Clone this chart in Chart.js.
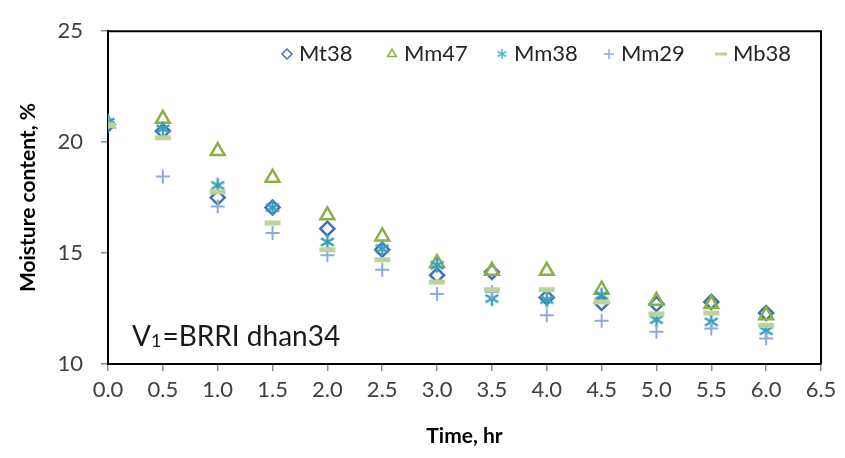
<!DOCTYPE html>
<html>
<head>
<meta charset="utf-8">
<script src="https://cdn.jsdelivr.net/npm/chart.js@4/dist/chart.umd.min.js"></script>
<style>
  html, body { margin: 0; padding: 0; background: #fff; }
  #wrap { width: 845px; height: 458px; position: relative; }
</style>
</head>
<body>
<div id="wrap"><canvas id="chart"></canvas></div>
<script>
const times = [0, 0.5, 1, 1.5, 2, 2.5, 3, 3.5, 4, 4.5, 5, 5.5, 6];
const mt38 = [20.8, 20.5, 17.5, 17.05, 16.1, 15.15, 14.0, 14.15, 13.0, 12.75, 12.7, 12.8, 12.3];
const mm47 = [20.85, 21.05, 19.6, 18.4, 16.7, 15.75, 14.55, 14.2, 14.2, 13.35, 12.85, 12.7, 12.2];
const mm38 = [20.9, 20.6, 18.05, 17.05, 15.5, 15.2, 14.45, 12.95, 12.9, 13.1, 12.0, 11.9, 11.5];
const mm29 = [20.9, 18.45, 17.1, 15.9, 14.9, 14.25, 13.15, 13.25, 12.2, 11.95, 11.45, 11.6, 11.15];
const mb38 = [20.75, 20.2, 17.75, 16.35, 15.15, 14.7, 13.7, 13.35, 13.35, 12.8, 12.25, 12.3, 11.75];

const xTicks = [0, 0.5, 1, 1.5, 2, 2.5, 3, 3.5, 4, 4.5, 5, 5.5, 6, 6.5];
const yTicks = [10, 15, 20, 25];

const canvas = document.getElementById("chart");
const ctx = canvas.getContext("2d");

const pts = ys => times.map((t, i) => ({ x: t, y: ys[i] }));

// six-armed asterisk like the Excel marker
function asterisk(color, r, lw) {
  const c = document.createElement("canvas");
  const s = Math.ceil(2 * r + lw + 2);
  c.width = s; c.height = s;
  const g = c.getContext("2d");
  g.strokeStyle = color;
  g.lineWidth = lw;
  g.lineCap = "butt";
  const m = s / 2;
  [90, 30, 150].forEach(a => {
    const rad = a * Math.PI / 180;
    g.beginPath();
    g.moveTo(m - Math.cos(rad) * r, m - Math.sin(rad) * r);
    g.lineTo(m + Math.cos(rad) * r, m + Math.sin(rad) * r);
    g.stroke();
  });
  return c;
}

const series = [
  { label: "Mt38", data: mt38, color: "#4472b0", style: "rectRot", r: 7, bw: 2.5, order: 5 },
  { label: "Mm47", data: mm47, color: "#8cb046", style: "triangle", r: 8, bw: 2.5, order: 4 },
  { label: "Mm38", data: mm38, color: "#3a9dbb", style: asterisk("#3a9dbb", 7.5, 2.5), r: 7, bw: 2.5, order: 3 },
  { label: "Mm29", data: mm29, color: "#8eaadb", style: "cross", r: 7, bw: 2, order: 2 },
  { label: "Mb38", data: mb38, color: "#bcd595", style: "line", r: 8, bw: 5, order: 1 }
];
const legendStar = asterisk("#5bb5d0", 5, 1.5);

// legend inside the plot, drawn by hand
const legendPlugin = {
  id: "insideLegend",
  afterDraw(chart) {
    const c = chart.ctx;
    const area = chart.chartArea;
    // frame top and right
    c.save();
    c.strokeStyle = "#000";
    c.lineWidth = 2;
    c.beginPath();
    c.moveTo(area.left, area.top);
    c.lineTo(area.right, area.top);
    c.lineTo(area.right, area.bottom);
    c.stroke();

    const starts = [299, 404, 514, 621, 733];
    c.font = "22px Lato";
    c.textBaseline = "middle";
    series.forEach((s, i) => {
      const x = starts[i];
      c.strokeStyle = s.color;
      c.fillStyle = "rgba(0,0,0,0)";
      c.lineWidth = s.style === "line" ? 3 : 1.5;
      const st = typeof s.style === "string" ? s.style : legendStar;
      Chart.helpers.drawPoint(c, { pointStyle: st, radius: s.style === "line" ? 6 : 5, borderWidth: c.lineWidth, rotation: 0 }, x - 12, 54);
      c.fillStyle = "#262626";
      c.fillText(s.label, x, 54);
    });

    // variety label
    c.fillStyle = "#1a1a1a";
    c.textBaseline = "alphabetic";
    c.font = "28px Lato";
    let tx = 132;
    c.fillText("V", tx, 346);
    tx += c.measureText("V").width;
    c.font = "18px Lato";
    c.fillText("1", tx, 347);
    tx += c.measureText("1").width + 1;
    c.font = "28px Lato";
    c.fillText("=BRRI dhan34", tx, 346);
    c.restore();
  }
};

new Chart(ctx, {
  type: "scatter",
  data: {
    datasets: series.map(s => ({
      label: s.label,
      data: pts(s.data),
      order: s.order,
      pointStyle: s.style,
      pointRadius: s.r,
      pointHoverRadius: s.r,
      pointBorderWidth: s.bw,
      borderColor: s.color,
      backgroundColor: "rgba(0,0,0,0)"
    }))
  },
  options: {
    responsive: true,
    maintainAspectRatio: false,
    animation: false,
    layout: { padding: { left: 0, right: 24, top: 18, bottom: 0 } },
    plugins: {
      legend: { display: false },
      tooltip: { enabled: false }
    },
    scales: {
      x: {
        type: "linear",
        min: 0,
        max: 6.5,
        afterBuildTicks: sc => { sc.ticks = xTicks.map(v => ({ value: v })); },
        afterFit: sc => { sc.height = 94; },
        ticks: {
          autoSkip: false,
          maxRotation: 0,
          padding: 6,
          color: "#404040",
          font: { family: "Lato", size: 22 },
          callback: v => Number(v).toFixed(1)
        },
        grid: { drawOnChartArea: false, color: "#8c8c8c", tickLength: 7, lineWidth: 1.5 },
        border: { color: "#000", width: 2 },
        title: {
          display: true,
          text: "Time, hr",
          color: "#000",
          font: { family: "Lato", size: 21, weight: "bold" },
          padding: { top: 0, bottom: 9 }
        }
      },
      y: {
        type: "linear",
        min: 10,
        max: 25,
        afterBuildTicks: sc => { sc.ticks = yTicks.map(v => ({ value: v })); },
        afterFit: sc => { sc.width = 108; },
        ticks: {
          padding: 18,
          color: "#404040",
          font: { family: "Lato", size: 22 }
        },
        grid: { drawOnChartArea: false, color: "#8c8c8c", tickLength: 7, lineWidth: 1.5 },
        border: { color: "#000", width: 2 },
        title: {
          display: true,
          text: "Moisture content, %",
          color: "#000",
          font: { family: "Lato", size: 21, weight: "bold" },
          padding: { top: 16, bottom: 0 }
        }
      }
    }
  },
  plugins: [legendPlugin]
});
</script>
</body>
</html>
